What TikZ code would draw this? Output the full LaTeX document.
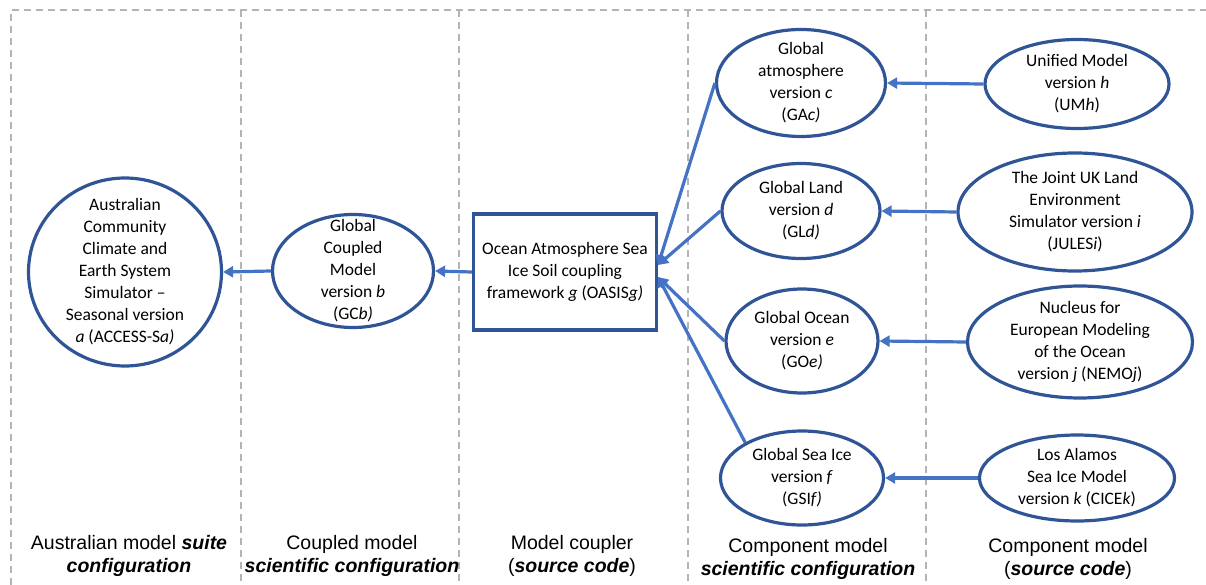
\documentclass[tikz,border=0pt]{standalone}
\usepackage{fontspec}
\setmainfont{Carlito}
\newfontfamily\labelfont{Liberation Sans}
\usetikzlibrary{shapes.geometric,arrows.meta}
\definecolor{nodeblue}{HTML}{2F5597}
\definecolor{arrowblue}{HTML}{4472C4}
\definecolor{dashgray}{HTML}{B4B4B4}

\begin{document}
\begin{tikzpicture}[x=1pt, y=-1pt,
	nstyle/.style={ellipse, draw=nodeblue, line width=3.2pt, inner sep=0pt},
	bstyle/.style={rectangle, draw=nodeblue, line width=3.2pt, inner sep=0pt,
	align=center, font=\fontsize{17.5}{22}\selectfont},
	tstyle/.style={align=center, font=\fontsize{17.5}{22}\selectfont},
	lstyle/.style={align=center, font=\labelfont\fontsize{19.5}{23}\selectfont},
	astyle/.style={draw=arrowblue, line width=3.2pt,
	-{Triangle[length=10pt, width=11pt]}},
	dstyle/.style={draw=dashgray, line width=1.5pt, dash pattern=on 7pt off 5pt}
	]
	\useasboundingbox (0,0) rectangle (1206,585);
	
	% columns
	\draw[dstyle] (11,585) -- (11,10) -- (1206,10);
	\foreach \x in {241,459,688,926}
	\draw[dstyle] (\x,10) -- (\x,585);
	
	% models
	\node[nstyle, minimum width=193pt, minimum height=188pt,
	label={[tstyle]center:{Australian\\Community\\Climate and\\Earth System\\Simulator --\\Seasonal version\\\textit{a} (ACCESS-S\textit{a)}}}]
	(1) at (125,272) {};
	\node[nstyle, minimum width=161pt, minimum height=113pt,
	label={[tstyle]center:{Global\\Coupled\\Model\\version \textit{b}\\(GC\textit{b)}}}]
	(2) at (353,271) {};
	\node[bstyle, minimum width=183pt, minimum height=116pt] (3) at (565,272)
	{Ocean Atmosphere Sea\\Ice Soil coupling\\framework \textit{g} (OASIS\textit{g)}};
	
	\node[nstyle, minimum width=169pt, minimum height=107pt,
	label={[tstyle]center:{Global\\atmosphere\\version \textit{c}\\(GA\textit{c)}}}]
	(4) at (801,83) {};
	\node[nstyle, minimum width=158pt, minimum height=95pt,
	label={[tstyle]center:{Global Land\\version \textit{d}\\(GL\textit{d)}}}]
	(5) at (801,211) {};
	\node[nstyle, minimum width=152pt, minimum height=104pt,
	label={[tstyle]center:{Global Ocean\\version \textit{e}\\(GO\textit{e)}}}]
	(6) at (802,341) {};
	\node[nstyle, minimum width=163pt, minimum height=94pt,
	label={[tstyle]center:{Global Sea Ice\\version \textit{f}\\(GSI\textit{f)}}}]
	(7) at (802,478) {};
	
	\node[nstyle, minimum width=184pt, minimum height=89pt,
	label={[tstyle]center:{Unified Model\\version \textit{h}\\(UM\textit{h})}}]
	(8) at (1077,84) {};
	\node[nstyle, minimum width=234pt, minimum height=118pt,
	label={[tstyle]center:{The Joint UK Land\\Environment\\Simulator version \textit{i}\\(JULES\textit{i})}}]
	(9) at (1075,212) {};
	\node[nstyle, minimum width=225pt, minimum height=112pt,
	label={[tstyle]center:{Nucleus for\\European Modeling\\of the Ocean\\version \textit{j} (NEMO\textit{j})}}]
	(10) at (1080,342) {};
	\node[nstyle, minimum width=195pt, minimum height=86pt,
	label={[tstyle]center:{Los Alamos\\Sea Ice Model\\version \textit{k} (CICE\textit{k})}}]
	(11) at (1077,478) {};
	
	% column titles
	\node[lstyle] (t1) at (129,556) {Australian model \textbf{\textit{suite}}\\\textbf{\textit{configuration}}};
	\node[lstyle] (t2) at (352,556) {Coupled model\\\textbf{\textit{scientific configuration}}};
	\node[lstyle] (t3) at (572,556) {Model coupler\\(\textbf{\textit{source code}})};
	\node[lstyle] (t4) at (808,559) {Component model\\\textbf{\textit{scientific configuration}}};
	\node[lstyle] (t5) at (1068,559) {Component model\\(\textbf{\textit{source code}})};
	
	% arrows
	\coordinate (3a) at ([yshift=7pt]3.east);
	\coordinate (3b) at ([yshift=-5pt]3.east);
	\draw[astyle] (2.west) to (1.east);
	\draw[astyle] (3.west) to (2.east);
	\draw[astyle] (4.west) to (3a);
	\draw[astyle] (5.west) to (3a);
	\draw[astyle] (6.west) to (3b);
	\draw[astyle] (7.148) to (3b);
	\draw[astyle] (8.west) to (4.east);
	\draw[astyle] (9.west) to (5.east);
	\draw[astyle] (10.west) to (6.east);
	\draw[astyle] (11.west) to (7.east);
\end{tikzpicture}
\end{document}
